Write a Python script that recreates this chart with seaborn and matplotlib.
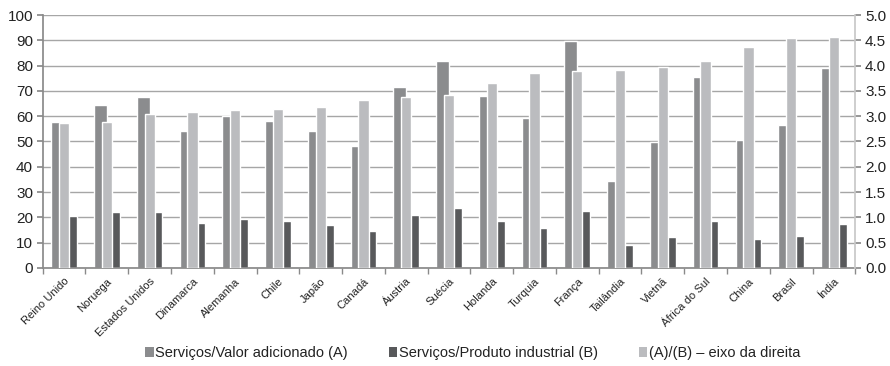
import matplotlib
matplotlib.use("Agg")
import matplotlib.pyplot as plt
from matplotlib.patches import Patch
from matplotlib.ticker import FixedLocator, FormatStrFormatter
import numpy as np
import pandas as pd
import seaborn as sns

countries = ["Reino Unido", "Noruega", "Estados Unidos", "Dinamarca", "Alemanha",
             "Chile", "Japão", "Canadá", "Áustria", "Suécia", "Holanda", "Turquia",
             "França", "Tailândia", "Vietnã", "África do Sul", "China", "Brasil", "Índia"]
servicos_valor = [57.8, 64.5, 67.6, 54.2, 60.0, 58.1, 54.2, 48.2, 71.5, 81.8, 68.0,
                  59.3, 89.8, 34.4, 49.9, 75.5, 50.6, 56.5, 79.1]
servicos_industria = [20.5, 22.3, 22.3, 17.7, 19.2, 18.5, 16.9, 14.5, 21.1, 23.5,
                      18.5, 15.7, 22.7, 8.9, 12.4, 18.5, 11.3, 12.5, 17.3]
razao = [2.86, 2.88, 3.04, 3.08, 3.12, 3.14, 3.19, 3.32, 3.38, 3.42, 3.65, 3.86,
         3.89, 3.91, 3.98, 4.09, 4.37, 4.54, 4.56]
series_names = ["Serviços/Valor adicionado (A)", "Serviços/Produto industrial (B)",
                "(A)/(B) – eixo da direita"]
left_ticks = list(range(0, 101, 10))
right_ticks = [0.0, 0.5, 1.0, 1.5, 2.0, 2.5, 3.0, 3.5, 4.0, 4.5, 5.0]

c_a, c_b, c_r = "#8b8c8e", "#58595b", "#bbbcbf"
axis_gray = "#8a8a8a"
text_c = "#222222"

sns.set_theme(style="white")
plt.rcParams["font.family"] = ["Liberation Sans Narrow", "Liberation Sans", "DejaVu Sans"]

long_df = pd.DataFrame({
    "pais": countries * 2,
    "valor": servicos_valor + servicos_industria,
    "serie": [series_names[0]] * len(countries) + [series_names[1]] * len(countries),
})
ratio_df = pd.DataFrame({"pais": countries, "razao": razao})

fig = plt.figure(figsize=(8.9, 3.66), dpi=100)
ax = fig.add_axes([0.048, 0.268, 0.913, 0.691])

# Primary axis: the two service shares side by side
sns.barplot(data=long_df, x="pais", y="valor", hue="serie", order=countries,
            hue_order=series_names[:2], palette=[c_a, c_b], width=0.6,
            saturation=1, ax=ax, legend=False, zorder=2)

# Secondary axis: the ratio, centred over each group
ax2 = ax.twinx()
sns.barplot(data=ratio_df, x="pais", y="razao", order=countries, color=c_r,
            width=0.24, saturation=1, ax=ax2, zorder=3)

n = len(countries)
for a in (ax, ax2):
    a.set_xlim(-0.5, n - 0.5)
    a.set_xlabel("")
    a.set_ylabel("")
ax.set_ylim(0, 100)
ax2.set_ylim(0, 5)
ax.set_yticks(left_ticks)
ax2.set_yticks(right_ticks)
ax2.yaxis.set_major_formatter(FormatStrFormatter("%.1f"))

ax.yaxis.grid(True, color="#a6a6a6", linewidth=1.0, zorder=0)
ax.set_axisbelow(True)

ax.spines["top"].set_visible(False)
ax2.spines["top"].set_visible(False)
for s in ("left", "bottom", "right"):
    ax.spines[s].set_color(axis_gray)
    ax2.spines[s].set_color(axis_gray)
ax.spines["right"].set_visible(False)
ax2.spines["left"].set_visible(False)
ax2.spines["bottom"].set_visible(False)
ax2.spines["right"].set_color("#c8c8c8")

ax.set_xticks(np.arange(n))
ax.set_xticklabels(countries, rotation=45, ha="right", rotation_mode="anchor",
                   fontsize=8, color=text_c)
ax.tick_params(axis="x", which="major", length=0, pad=6)
ax.xaxis.set_minor_locator(FixedLocator(np.arange(-0.5, n, 1.0)))
ax.tick_params(axis="x", which="minor", length=4, color=axis_gray, bottom=True)

ax.tick_params(axis="y", left=True, length=4, color=axis_gray, labelsize=11,
               labelcolor=text_c, pad=3)
ax2.tick_params(axis="y", right=True, length=4, color=axis_gray, labelsize=11,
                labelcolor=text_c, pad=3)
ax2.tick_params(axis="x", bottom=False, labelbottom=False)

handles = [Patch(facecolor=c_a, edgecolor="none"),
           Patch(facecolor=c_b, edgecolor="none"),
           Patch(facecolor=c_r, edgecolor="none")]
fig.legend(handles, series_names, loc="center", bbox_to_anchor=(0.531, 0.035),
           ncol=3, frameon=False, fontsize=10.5, handlelength=0.6, handleheight=0.6,
           handletextpad=0.1, columnspacing=2.8, labelcolor=text_c)

fig.savefig("out.png", dpi=100)
